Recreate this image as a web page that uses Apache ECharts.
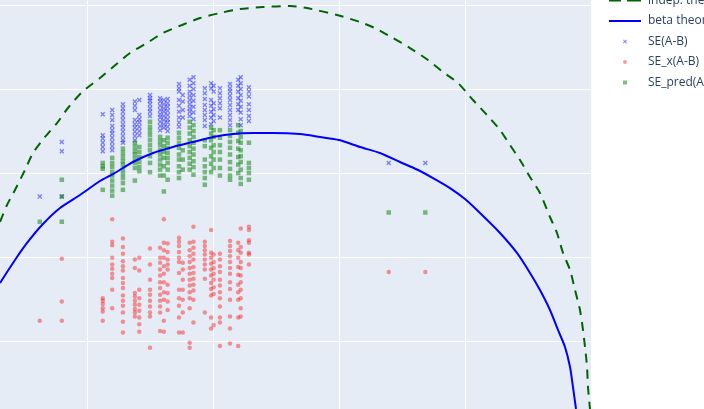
<!DOCTYPE html>
<html>
<head>
<meta charset="utf-8">
<script src="https://cdn.jsdelivr.net/npm/echarts@6/dist/echarts.min.js"></script>
<style>
html,body{margin:0;padding:0;background:#fff}
#chart{width:704px;height:409px}
</style>
</head>
<body>
<div id="chart"></div>
<script>
// x positions of the sample columns
const pCols = [0.125, 0.160, 0.225, 0.240, 0.257, 0.276, 0.283, 0.300, 0.316, 0.322, 0.328,
  0.346, 0.352, 0.363, 0.369, 0.387, 0.397, 0.401, 0.411, 0.427, 0.440, 0.444, 0.457, 0.679, 0.737];

// SE(A-B) per column
const seAB = [
  [0.272],
  [0.337, 0.326, 0.272],
  [0.370, 0.345, 0.341, 0.336, 0.331, 0.326],
  [0.375, 0.369, 0.363, 0.356, 0.351, 0.347, 0.342, 0.337, 0.332, 0.327],
  [0.382, 0.377, 0.373, 0.368, 0.363, 0.358, 0.354, 0.349, 0.344, 0.339, 0.336],
  [0.385, 0.380, 0.375, 0.363, 0.358, 0.354, 0.349, 0.344, 0.339],
  [0.387, 0.369, 0.364, 0.360, 0.355, 0.350, 0.345],
  [0.393, 0.389, 0.386, 0.382, 0.377, 0.373, 0.368],
  [0.389, 0.385, 0.380, 0.375, 0.370, 0.366, 0.361, 0.356, 0.351],
  [0.387, 0.382, 0.377, 0.373, 0.368, 0.363, 0.358, 0.354],
  [0.388, 0.383, 0.379, 0.374, 0.369, 0.364, 0.360, 0.355, 0.350],
  [0.406, 0.401, 0.397, 0.387, 0.380, 0.373, 0.366, 0.360, 0.355],
  [0.393, 0.385, 0.375, 0.366],
  [0.411, 0.404, 0.397, 0.392, 0.387, 0.382, 0.377, 0.373, 0.368],
  [0.414, 0.407, 0.400, 0.393, 0.386, 0.379, 0.372, 0.364],
  [0.401, 0.395, 0.388, 0.381, 0.375, 0.369, 0.363, 0.356],
  [0.407, 0.401, 0.387, 0.380, 0.373, 0.366, 0.358],
  [0.404, 0.397, 0.383, 0.376, 0.369, 0.362],
  [0.401, 0.395, 0.389, 0.383, 0.377, 0.366],
  [0.406, 0.401, 0.397, 0.392, 0.387, 0.381, 0.375, 0.369, 0.363, 0.357],
  [0.411, 0.404, 0.397, 0.389, 0.382, 0.375],
  [0.414, 0.407, 0.400, 0.393, 0.386, 0.379, 0.372, 0.364, 0.357],
  [0.402, 0.397, 0.391, 0.382, 0.375, 0.368, 0.362],
  [0.312],
  [0.312]
];

// SE_x(A-B) per column
const seX = [
  [0.124],
  [0.198, 0.147, 0.124],
  [0.151, 0.148, 0.144, 0.139, 0.135, 0.124],
  [0.245, 0.218, 0.214, 0.199, 0.191, 0.186, 0.180, 0.175, 0.161, 0.139],
  [0.222, 0.212, 0.204, 0.195, 0.189, 0.184, 0.175, 0.169, 0.163, 0.154, 0.148, 0.142, 0.134, 0.123, 0.110],
  [0.197, 0.187, 0.157, 0.153, 0.148, 0.143, 0.138, 0.134, 0.129],
  [0.199, 0.184, 0.161, 0.151, 0.143, 0.136, 0.128, 0.120, 0.111],
  [0.210, 0.191, 0.173, 0.161, 0.155, 0.148, 0.141, 0.134, 0.129, 0.092],
  [0.211, 0.199, 0.193, 0.185, 0.178, 0.170, 0.163, 0.155, 0.148, 0.141, 0.134, 0.112],
  [0.245, 0.217, 0.208, 0.199, 0.189, 0.180, 0.170, 0.158, 0.149, 0.124, 0.111],
  [0.216, 0.206, 0.197, 0.191, 0.185, 0.167, 0.157, 0.147, 0.137],
  [0.223, 0.218, 0.213, 0.206, 0.199, 0.194, 0.181, 0.161, 0.151, 0.142, 0.128, 0.110],
  [0.193, 0.185, 0.173, 0.161, 0.149, 0.134, 0.110],
  [0.217, 0.208, 0.201, 0.194, 0.187, 0.180, 0.173, 0.166, 0.158, 0.151, 0.139, 0.098, 0.092],
  [0.236, 0.218, 0.211, 0.204, 0.197, 0.188, 0.181, 0.174, 0.167, 0.160, 0.149, 0.122],
  [0.218, 0.213, 0.208, 0.203, 0.197, 0.191, 0.185, 0.174, 0.134],
  [0.232, 0.205, 0.199, 0.192, 0.185, 0.178, 0.169, 0.162, 0.154, 0.128, 0.115],
  [0.203, 0.194, 0.187, 0.180, 0.173, 0.164, 0.156, 0.119],
  [0.204, 0.197, 0.189, 0.182, 0.173, 0.166, 0.158, 0.151, 0.141, 0.128, 0.122, 0.094],
  [0.219, 0.213, 0.207, 0.201, 0.194, 0.187, 0.180, 0.170, 0.162, 0.149, 0.129, 0.115, 0.097],
  [0.217, 0.208, 0.199, 0.188, 0.179, 0.167, 0.158, 0.149, 0.128, 0.094],
  [0.234, 0.212, 0.205, 0.194, 0.187, 0.178, 0.170, 0.161, 0.151, 0.139, 0.129],
  [0.236, 0.232, 0.220, 0.217, 0.205, 0.203, 0.191],
  [0.182],
  [0.182]
];

// SE_pred(A-B) per column
const sePred = [
  [0.242],
  [0.292, 0.272, 0.242],
  [0.312, 0.308, 0.305, 0.280],
  [0.318, 0.312, 0.307, 0.301, 0.297, 0.291, 0.285, 0.279, 0.273],
  [0.329, 0.324, 0.319, 0.314, 0.310, 0.304, 0.299, 0.294, 0.288, 0.280],
  [0.336, 0.331, 0.326, 0.322, 0.317, 0.312, 0.306, 0.291],
  [0.331, 0.325, 0.319, 0.313, 0.307, 0.302],
  [0.361, 0.355, 0.350, 0.345, 0.339, 0.333, 0.327, 0.320, 0.312, 0.301],
  [0.343, 0.338, 0.333, 0.327, 0.322, 0.316, 0.310, 0.304, 0.297],
  [0.339, 0.332, 0.325, 0.318, 0.308, 0.297, 0.278],
  [0.342, 0.336, 0.330, 0.324, 0.318, 0.312, 0.304, 0.292],
  [0.348, 0.342, 0.336, 0.330, 0.322, 0.316, 0.308, 0.301, 0.294],
  [0.327, 0.316, 0.304],
  [0.361, 0.354, 0.347, 0.339, 0.332, 0.325, 0.318, 0.311, 0.304],
  [0.357, 0.350, 0.343, 0.336, 0.329, 0.322, 0.314, 0.307, 0.298],
  [0.339, 0.332, 0.316, 0.308, 0.301, 0.294, 0.286],
  [0.354, 0.347, 0.339, 0.330, 0.320, 0.311, 0.301],
  [0.351, 0.343, 0.333, 0.325, 0.316, 0.306],
  [0.351, 0.342, 0.333, 0.325, 0.316, 0.306, 0.297],
  [0.351, 0.344, 0.337, 0.330, 0.322, 0.313, 0.305, 0.297, 0.292],
  [0.357, 0.348, 0.338, 0.329, 0.319, 0.310, 0.300],
  [0.350, 0.343, 0.336, 0.327, 0.320, 0.313, 0.304, 0.294, 0.287],
  [0.336, 0.312, 0.306, 0.300, 0.292],
  [0.253],
  [0.253]
];

// theory curves
const indepP = [0.0619, 0.0730, 0.0857, 0.1016, 0.1143, 0.1333, 0.1524, 0.1698, 0.1921, 0.2206,
  0.2413, 0.2683, 0.2952, 0.3206, 0.3508, 0.3794, 0.4111, 0.4429, 0.4794, 0.5222, 0.5492,
  0.5968, 0.6333, 0.6603, 0.6857, 0.7127, 0.7413, 0.7651, 0.7889, 0.8127, 0.8349, 0.8556,
  0.8714, 0.8873, 0.9032, 0.9190, 0.9349, 0.9460, 0.9556, 0.9667, 0.9746, 0.9825, 0.9873,
  0.9905, 0.9937, 0.9952, 0.9984];
const indepSE = [0.2417, 0.2619, 0.2798, 0.3036, 0.3238, 0.3429, 0.3595, 0.3774, 0.3964, 0.4131,
  0.4262, 0.4429, 0.4548, 0.4667, 0.4762, 0.4845, 0.4905, 0.4952, 0.4976, 0.4988, 0.4964,
  0.4881, 0.4798, 0.4714, 0.4607, 0.4488, 0.4345, 0.4202, 0.4071, 0.3869, 0.3690, 0.3512,
  0.3333, 0.3155, 0.2952, 0.2762, 0.2476, 0.2286, 0.2048, 0.1845, 0.1607, 0.1369, 0.1131,
  0.0929, 0.0690, 0.0452, 0.0190];

const betaP = [0.0619, 0.0857, 0.1048, 0.1286, 0.1571, 0.1889, 0.2206, 0.2413, 0.2730,
  0.3048, 0.3365, 0.3683, 0.4000, 0.4317, 0.4635, 0.4952, 0.5381, 0.5698, 0.6000, 0.6333,
  0.6651, 0.6968, 0.7238, 0.7492, 0.7762, 0.8000, 0.8238, 0.8556, 0.8825, 0.9032, 0.9190,
  0.9349, 0.9476, 0.9587, 0.9667, 0.9714, 0.9762];
const betaSE = [0.1690, 0.1964, 0.2167, 0.2381, 0.2583, 0.2738, 0.2905, 0.2988, 0.3131,
  0.3238, 0.3310, 0.3369, 0.3429, 0.3464, 0.3476, 0.3476, 0.3464, 0.3429, 0.3393, 0.3310,
  0.3238, 0.3131, 0.3042, 0.2940, 0.2821, 0.2690, 0.2524, 0.2286, 0.2048, 0.1810, 0.1607,
  0.1369, 0.1131, 0.0929, 0.0690, 0.0452, 0.0190];

// visible window of the (zoomed) plot
const xRange = [0.0619, 1.0];
const yRange = [0.019, 0.506];

const legendNames = ['indep. theory', 'beta theory', 'SE(A-B)', 'SE_x(A-B)', 'SE_pred(A-B)'];

function columnPoints(lists) {
  const out = [];
  lists.forEach((ys, i) => ys.forEach(y => out.push([pCols[i], y])));
  return out;
}
function zip(xs, ys) { return xs.map((x, i) => [x, ys[i]]); }

const xMark = 'path://M0,2L2,0L5,3L8,0L10,2L7,5L10,8L8,10L5,7L2,10L0,8L3,5Z';

let chart = echarts.init(document.getElementById('chart'));
let option = {
  animation: false,
  backgroundColor: '#fff',
  grid: {
    left: 0, right: 113, top: 0, bottom: 0,
    show: true, backgroundColor: '#E5ECF6', borderWidth: 0
  },
  legend: {
    orient: 'vertical',
    left: 609, top: -6.5,
    padding: 0,
    itemWidth: 34, itemHeight: 14, itemGap: 6.5,
    textStyle: { fontFamily: 'Open Sans', fontSize: 12, color: '#2a3f5f' },
    data: [
      { name: legendNames[0], icon: 'path://M0,0M34,14M0,6H12V8H0ZM18,6H32V8H18Z' },
      { name: legendNames[1], icon: 'path://M0,0M34,14M0,6H32V8H0Z' },
      { name: legendNames[2], icon: 'path://M0,0M34,14M14,5.8L14.8,5L16,6.2L17.2,5L18,5.8L16.8,7L18,8.2L17.2,9L16,7.8L14.8,9L14,8.2L15.2,7Z' },
      { name: legendNames[3], icon: 'path://M0,0M34,14M14,7a2,2 0 1,0 4,0a2,2 0 1,0 -4,0Z' },
      { name: legendNames[4], icon: 'path://M0,0M34,14M14,5H18V9H14Z' }
    ]
  },
  xAxis: {
    type: 'value', min: xRange[0], max: xRange[1], splitNumber: 5,
    axisLine: { show: false }, axisTick: { show: false }, axisLabel: { show: false },
    splitLine: { showMinLine: false, showMaxLine: false, lineStyle: { color: '#fff', width: 1 } }
  },
  yAxis: {
    type: 'value', min: yRange[0], max: yRange[1], splitNumber: 5,
    axisLine: { show: false }, axisTick: { show: false }, axisLabel: { show: false },
    splitLine: { showMinLine: false, showMaxLine: false, lineStyle: { color: '#fff', width: 1 } }
  },
  series: [
    {
      name: legendNames[0], type: 'line', data: zip(indepP, indepSE),
      symbol: 'none', showSymbol: false, smooth: 0.25,
      lineStyle: { color: '#006400', width: 2, type: [9, 7] },
      itemStyle: { color: '#006400' }
    },
    {
      name: legendNames[1], type: 'line', data: zip(betaP, betaSE),
      symbol: 'none', showSymbol: false, smooth: 0.25,
      lineStyle: { color: '#0000ff', width: 2 },
      itemStyle: { color: '#0000ff' }
    },
    {
      name: legendNames[2], type: 'scatter', data: columnPoints(seAB),
      symbol: xMark, symbolSize: 5,
      itemStyle: { color: '#0000ff', opacity: 0.45 }
    },
    {
      name: legendNames[3], type: 'scatter', data: columnPoints(seX),
      symbol: 'circle', symbolSize: 4.5,
      itemStyle: { color: '#ff0000', opacity: 0.4 }
    },
    {
      name: legendNames[4], type: 'scatter', data: columnPoints(sePred),
      symbol: 'rect', symbolSize: 4.5,
      itemStyle: { color: '#008000', opacity: 0.5 }
    }
  ]
};
chart.setOption(option);
</script>
</body>
</html>
